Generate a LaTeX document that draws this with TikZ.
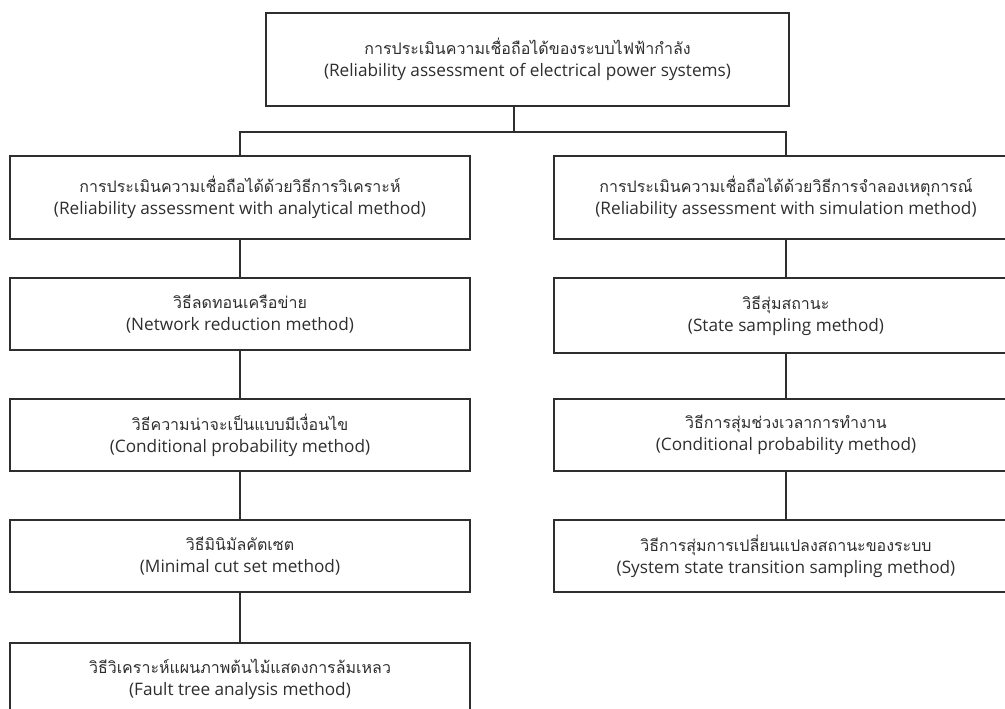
\documentclass[tikz,border=0pt]{standalone}
\usepackage{fontspec}
\setmainfont{Open Sans}
\newfontfamily\thaifont[Script=Thai]{Loma}
\newcommand\thline[1]{{\fontsize{16}{21}\thaifont #1}}
\definecolor{ink}{HTML}{2E2E2E}
\begin{document}
\begin{tikzpicture}[x=1pt,y=-1pt,
  box/.style={draw=ink, line width=1.3pt, rectangle, inner sep=0pt,
    align=center, text=ink, font=\fontsize{17.2}{22}\selectfont},
  link/.style={draw=ink, line width=1.3pt}]
\useasboundingbox (0,0) rectangle (1005,709);
\clip (0,0) rectangle (1005,709);

% root
\node[box, minimum width=523pt, minimum height=93pt] (root) at (527.5,59.5)
  {\thline{การประเมินความเชื่อถือได้ของระบบไฟฟ้ากำลัง}\\(Reliability assessment of electrical power systems)};

% analytical branch
\node[box, minimum width=460pt, minimum height=83pt] (a1) at (240,197.5)
  {\thline{การประเมินความเชื่อถือได้ด้วยวิธีการวิเคราะห์}\\(Reliability assessment with analytical method)};
\node[box, minimum width=460pt, minimum height=72pt] (a2) at (240,314)
  {\thline{วิธีลดทอนเครือข่าย}\\(Network reduction method)};
\node[box, minimum width=460pt, minimum height=72pt] (a3) at (240,435)
  {\thline{วิธีความน่าจะเป็นแบบมีเงื่อนไข}\\(Conditional probability method)};
\node[box, minimum width=460pt, minimum height=72pt] (a4) at (240,556)
  {\thline{วิธีมินิมัลคัตเซต}\\(Minimal cut set method)};
\node[box, minimum width=460pt, minimum height=72pt] (a5) at (240,679)
  {\thline{วิธีวิเคราะห์แผนภาพต้นไม้แสดงการล้มเหลว}\\(Fault tree analysis method)};

% simulation branch
\node[box, minimum width=464pt, minimum height=83pt] (s1) at (786,197.5)
  {\thline{การประเมินความเชื่อถือได้ด้วยวิธีการจำลองเหตุการณ์}\\(Reliability assessment with simulation method)};
\node[box, minimum width=464pt, minimum height=75pt] (s2) at (786,315.5)
  {\thline{วิธีสุ่มสถานะ}\\(State sampling method)};
\node[box, minimum width=464pt, minimum height=72pt] (s3) at (786,435)
  {\thline{วิธีการสุ่มช่วงเวลาการทำงาน}\\(Conditional probability method)};
\node[box, minimum width=464pt, minimum height=72pt] (s4) at (786,556)
  {\thline{วิธีการสุ่มการเปลี่ยนแปลงสถานะของระบบ}\\(System state transition sampling method)};

% connectors
\coordinate (split) at (514,132);
\draw[link] (root.south -| split) -- (split);
\draw[link] (a1.north) |- (split) -| (s1.north);
\draw[link] (a1) -- (a2);
\draw[link] (a2) -- (a3);
\draw[link] (a3) -- (a4);
\draw[link] (a4) -- (a5);
\draw[link] (s1) -- (s2);
\draw[link] (s2) -- (s3);
\draw[link] (s3) -- (s4);
\end{tikzpicture}
\end{document}
